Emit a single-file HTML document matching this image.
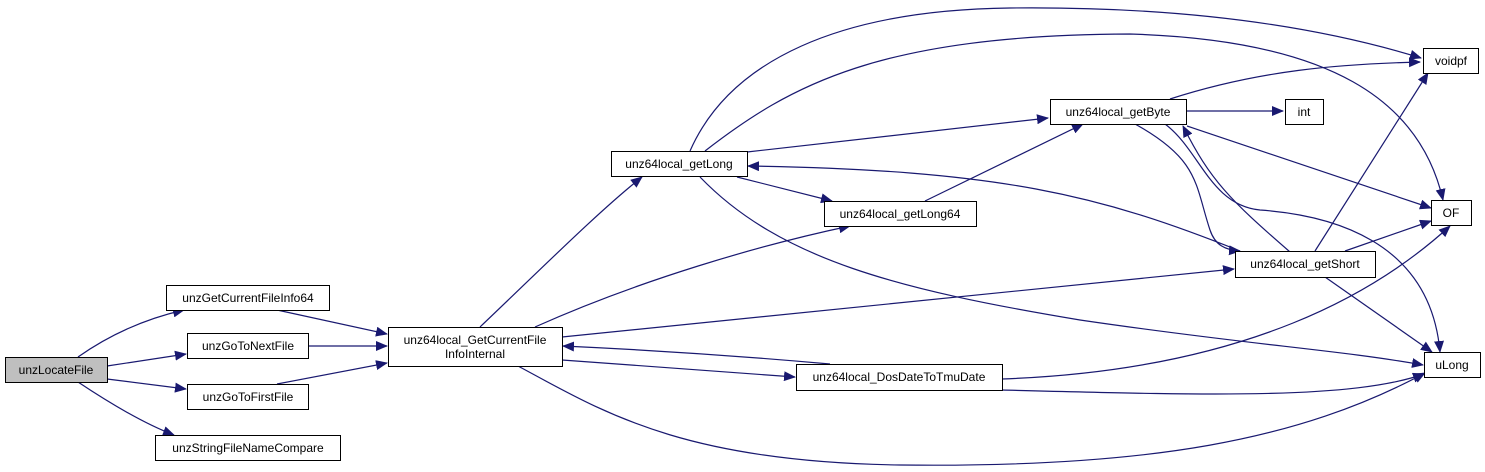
<!DOCTYPE html>
<html><head><meta charset="utf-8"><style>
html,body{margin:0;padding:0;background:#fff;}
svg{display:block;}
text{font-family:"Liberation Sans",Arial,sans-serif;font-size:12px;fill:#000;}
</style></head><body>
<svg width="1485" height="472" viewBox="0 0 1485 472" xmlns="http://www.w3.org/2000/svg">
<defs>
<marker id="a" markerWidth="12" markerHeight="10" refX="11" refY="5" orient="auto" markerUnits="userSpaceOnUse">
<path d="M0,0 L12,5 L0,10 z" fill="#191970"/>
</marker>
</defs>
<g fill="none" stroke="#191970" stroke-width="1.2" marker-end="url(#a)">
<path d="M78,357 C105,338 140,320 184,310"/>
<path d="M107,366 L186,354"/>
<path d="M107,379 L186,389"/>
<path d="M78,382 C105,400 140,422 174,435"/>
<path d="M277,310 L387,334"/>
<path d="M308,346 L387,346"/>
<path d="M277,384 L387,363"/>
<path d="M480,327 C540,270 600,210 642,177"/>
<path d="M535,327 C640,280 760,245 850,226"/>
<path d="M562,337 L1234,269"/>
<path d="M830,364 C740,356 650,350 563,346"/>
<path d="M562,360 L795,377"/>
<path d="M518,366 C600,410 680,462 900,465 C1150,468 1300,440 1425,373"/>
<path d="M690,151 C730,60 840,10 1010,8 C1200,6 1330,30 1421,58"/>
<path d="M705,151 C790,85 880,35 1130,34 C1330,40 1420,100 1443,200"/>
<path d="M747,152 L1048,118"/>
<path d="M737,177 L832,201"/>
<path d="M700,177 C780,260 900,290 1080,320 C1250,345 1340,350 1423,365"/>
<path d="M925,201 L1083,124"/>
<path d="M1170,99 C1260,70 1340,64 1420,62"/>
<path d="M1187,111 L1283,111"/>
<path d="M1187,126 L1431,208"/>
<path d="M1135,124 C1200,160 1195,185 1210,230 C1215,245 1225,250 1240,251"/>
<path d="M1290,252 C1230,200 1210,180 1183,126"/>
<path d="M1165,124 C1200,150 1210,205 1260,210 C1330,215 1430,240 1440,352"/>
<path d="M1240,251 C1100,195 1000,170 748,166"/>
<path d="M1315,251 L1428,73"/>
<path d="M1345,251 L1431,221"/>
<path d="M1325,277 L1432,352"/>
<path d="M1002,379 C1250,370 1380,290 1450,226"/>
<path d="M1002,390 C1200,395 1350,400 1424,374"/>
</g>
<g stroke="#000" stroke-width="1" fill="#fff">
<rect x="5.5" y="357.5" width="102" height="25" fill="#bfbfbf"/>
<rect x="166.5" y="285.5" width="163" height="25"/>
<rect x="187.5" y="333.5" width="121" height="25"/>
<rect x="187.5" y="384.5" width="121" height="25"/>
<rect x="155.5" y="435.5" width="185" height="25"/>
<rect x="388.5" y="327.5" width="174" height="39"/>
<rect x="611.5" y="151.5" width="136" height="25"/>
<rect x="1050.5" y="99.5" width="136" height="25"/>
<rect x="1285.5" y="99.5" width="38" height="25"/>
<rect x="1423.5" y="48.5" width="55" height="25"/>
<rect x="824.5" y="201.5" width="152" height="25"/>
<rect x="1431.5" y="200.5" width="40" height="25"/>
<rect x="1235.5" y="251.5" width="140" height="26"/>
<rect x="1424.5" y="352.5" width="56" height="25"/>
<rect x="796.5" y="364.5" width="206" height="26"/>
</g>
<g text-anchor="middle">
<text x="56" y="374">unzLocateFile</text>
<text x="248" y="302">unzGetCurrentFileInfo64</text>
<text x="248" y="350">unzGoToNextFile</text>
<text x="248" y="401">unzGoToFirstFile</text>
<text x="248" y="452">unzStringFileNameCompare</text>
<text x="475" y="344">unz64local_GetCurrentFile</text>
<text x="475" y="358">InfoInternal</text>
<text x="679" y="168">unz64local_getLong</text>
<text x="1118" y="116">unz64local_getByte</text>
<text x="1304" y="116">int</text>
<text x="1451" y="65">voidpf</text>
<text x="900" y="218">unz64local_getLong64</text>
<text x="1451" y="217">OF</text>
<text x="1305" y="268">unz64local_getShort</text>
<text x="1452" y="369">uLong</text>
<text x="899" y="381">unz64local_DosDateToTmuDate</text>
</g>
</svg>
</body></html>
